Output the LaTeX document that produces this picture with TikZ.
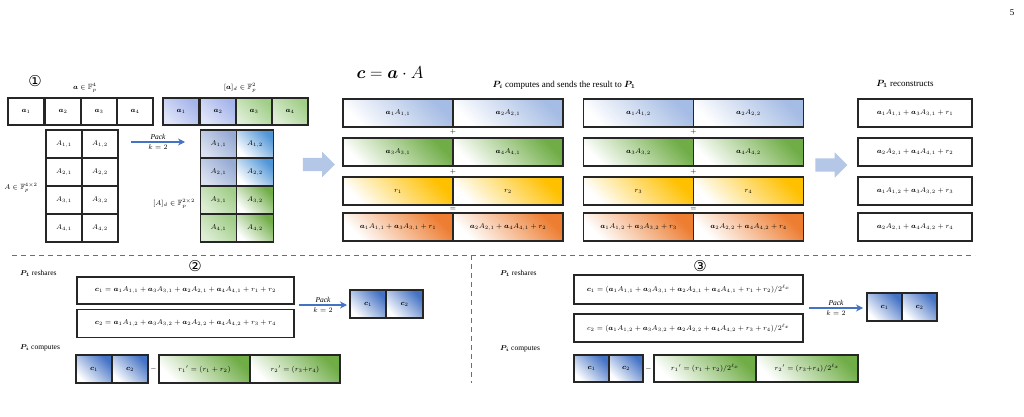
\documentclass[tikz,border=0pt]{standalone}
\usepackage{amsmath,amssymb,bm}
\usepackage{fontspec}
\setmainfont{Liberation Serif}
\newfontfamily\circfont{DejaVu Sans}
\usetikzlibrary{arrows.meta,shapes.arrows}

\definecolor{rowblue}{RGB}{165,188,228}
\definecolor{rowgreen}{RGB}{112,173,71}
\definecolor{rowyellow}{RGB}{255,192,0}
\definecolor{roworange}{RGB}{237,125,49}
\definecolor{lavblue}{RGB}{165,180,235}
\definecolor{lgreen}{RGB}{160,205,135}
\definecolor{grayblue}{RGB}{150,170,212}
\definecolor{skyblue}{RGB}{80,150,215}
\definecolor{deepblue}{RGB}{68,114,196}
\definecolor{flowblue}{RGB}{180,199,231}

\newcommand{\cellfont}{\fontsize{7}{8}\selectfont}
\newcommand{\lblfont}{\fontsize{7.5}{8}\selectfont}

\tikzset{
  cell/.style={draw=black!85, line width=1.3pt, inner sep=0pt, font=\cellfont},
  shadeit/.style={top color=#1, bottom color=white, shading angle=-45},
  softshade/.style={top color=#1, bottom color=#1!35, shading angle=-45},
  lbl/.style={inner sep=1pt, font=\lblfont},
  packarrow/.style={draw=deepblue, line width=1.3pt, -{Stealth[length=7pt,width=7pt]}},
  flowarrow/.style={single arrow, fill=flowblue, minimum height=32pt, minimum width=25pt,
    text height=13pt, text depth=0pt, text width=0pt,
    single arrow head extend=6pt, single arrow head indent=0pt, inner sep=0pt},
  sepline/.style={draw=deepblue, line width=1pt, dash pattern=on 5pt off 4pt},
  opsign/.style={inner sep=0pt, font=\fontsize{7}{8}\selectfont}
}

\begin{document}
\begin{tikzpicture}[x=1pt,y=-1pt]
    \useasboundingbox (0,0) rectangle (1024,417);

    \node[lbl, font=\fontsize{9}{10}\selectfont] (pagenum) at (1012,13) {5};

    % --- Step 1: plain and packed inputs ---
    \node[inner sep=0pt, font=\circfont\fontsize{15}{16}\selectfont] (stepone) at (35,81) {①};
    \node[lbl] (alab) at (85,88) {$\bm{a}\in\mathbb{F}_p^4$};
    \foreach \i/\x in {1/26,2/63,3/99,4/135} {
        \node[cell, minimum width=36.25, minimum height=27] (a\i) at (\x,111.5) {$\bm{a}_\i$};
    }
    \node[lbl] (Alab) at (21,188) {$A\in\mathbb{F}_p^{4\times 2}$};
    \foreach \r/\y in {1/144,2/172,3/200,4/228} {
        \foreach \c/\x in {1/64,2/100} {
            \node[cell, minimum width=36, minimum height=28] (A\r\c) at (\x,\y) {$A_{\r,\c}$};
        }
    }

    % pack step
    \coordinate (packas) at (131,142);
    \coordinate (packae) at (185,142);
    \draw[packarrow] (packas) -- node[above=1pt, lbl] {$\mathit{Pack}$} node[below=1pt, lbl] {$k=2$} (packae);

    % packed vector
    \node[lbl] (pdalab) at (240,88) {$[\bm{a}]_d\in\mathbb{F}_p^2$};
    \foreach \i/\x/\col in {1/181/lavblue,2/218/lavblue,3/254/lgreen,4/290/lgreen} {
        \node[cell, minimum width=36.25, minimum height=27, softshade=\col] (pa\i) at (\x,111.5) {$\bm{a}_\i$};
    }

    % packed matrix
    \node[lbl] (pdAlab) at (174,204) {$[A]_d\in\mathbb{F}_p^{2\times 2}$};
    \foreach \r/\y/\cola/\colb in {1/144/grayblue/skyblue,2/172/grayblue/skyblue,3/200/lgreen/rowgreen,4/228/lgreen/rowgreen} {
        \node[cell, minimum width=36.5, minimum height=28, softshade=\cola] (pA\r1) at (218.5,\y) {$A_{\r,1}$};
        \node[cell, minimum width=36.5, minimum height=28, shadeit=\colb] (pA\r2) at (255,\y) {$A_{\r,2}$};
    }

    \node[flowarrow] (flowa) at (315.5,164.5) {};

    % --- Local products ---
    \node[inner sep=0pt, font=\fontsize{18}{20}\selectfont] (title) at (390,73) {$\bm{c}=\bm{a}\cdot A$};
    \node[lbl, font=\fontsize{9}{10}\selectfont] (complab) at (564,85) {$\bm{P_i}$ computes and sends the result to $\bm{P_1}$};

    \foreach \k/\xo in {1/0,2/240.5} {
        % products with the first half
        \node[cell, minimum width=110, minimum height=28, shadeit=rowblue] (b1l\k) at (398+\xo,113) {$\bm{a}_1A_{1,\k}$};
        \node[cell, minimum width=110, minimum height=28, shadeit=rowblue] (b1r\k) at (508+\xo,113) {$\bm{a}_2A_{2,\k}$};
        \node[opsign] (plusa\k) at (453+\xo,132) {$+$};
        % products with the second half
        \node[cell, minimum width=110, minimum height=28, shadeit=rowgreen] (b2l\k) at (398+\xo,152) {$\bm{a}_3A_{3,\k}$};
        \node[cell, minimum width=110, minimum height=28, shadeit=rowgreen] (b2r\k) at (508+\xo,152) {$\bm{a}_4A_{4,\k}$};
        \node[opsign] (plusb\k) at (453+\xo,171.5) {$+$};
        \node[opsign] (eq\k) at (453+\xo,209) {$=$};
    }
    % masks
    \node[cell, minimum width=110, minimum height=28, shadeit=rowyellow] (b3l1) at (398,191) {$r_1$};
    \node[cell, minimum width=110, minimum height=28, shadeit=rowyellow] (b3r1) at (508,191) {$r_2$};
    \node[cell, minimum width=110, minimum height=28, shadeit=rowyellow] (b3l2) at (638.5,191) {$r_3$};
    \node[cell, minimum width=110, minimum height=28, shadeit=rowyellow] (b3r2) at (748.5,191) {$r_4$};
    % sums
    \node[cell, minimum width=110, minimum height=28, shadeit=roworange] (b4l1) at (398,227) {$\bm{a}_1A_{1,1}+\bm{a}_3A_{3,1}+r_1$};
    \node[cell, minimum width=110, minimum height=28, shadeit=roworange] (b4r1) at (508,227) {$\bm{a}_2A_{2,1}+\bm{a}_4A_{4,1}+r_2$};
    \node[cell, minimum width=110, minimum height=28, shadeit=roworange] (b4l2) at (638.5,227) {$\bm{a}_1A_{1,2}+\bm{a}_3A_{3,2}+r_3$};
    \node[cell, minimum width=110, minimum height=28, shadeit=roworange] (b4r2) at (748.5,227) {$\bm{a}_2A_{2,2}+\bm{a}_4A_{4,2}+r_4$};

    \node[flowarrow] (flowb) at (828,165) {};

    % --- Reconstruction ---
    \node[lbl, font=\fontsize{9}{10}\selectfont] (reclab) at (905,84) {$\bm{P_1}$ reconstructs};
    \foreach \i/\y/\t in {1/113/{\bm{a}_1A_{1,1}+\bm{a}_3A_{3,1}+r_1},
                          2/152/{\bm{a}_2A_{2,1}+\bm{a}_4A_{4,1}+r_2},
                          3/191/{\bm{a}_1A_{1,2}+\bm{a}_3A_{3,2}+r_3},
                          4/227/{\bm{a}_2A_{2,1}+\bm{a}_4A_{4,2}+r_4}} {
        \node[cell, minimum width=114, minimum height=28] (rec\i) at (915,\y) {$\t$};
    }

    % --- Separators ---
    \draw[sepline] (12,255) -- (975,255);
    \draw[sepline] (471,255) -- (471,383);

    % --- Step 2 ---
    \node[lbl, anchor=west] (reshtwo) at (19,273) {$\bm{P_1}$ reshares};
    \node[inner sep=0pt, font=\circfont\fontsize{15}{16}\selectfont] (steptwo) at (195,266) {②};
    \node[cell, minimum width=217, minimum height=27] (ctwoa) at (185.5,290.5)
        {$\bm{c}_1=\bm{a}_1A_{1,1}+\bm{a}_3A_{3,1}+\bm{a}_2A_{2,1}+\bm{a}_4A_{4,1}+r_1+r_2$};
    \node[cell, minimum width=217, minimum height=28] (ctwob) at (185.5,323.5)
        {$\bm{c}_2=\bm{a}_1A_{1,2}+\bm{a}_3A_{3,2}+\bm{a}_2A_{2,2}+\bm{a}_4A_{4,2}+r_3+r_4$};
    \coordinate (packbs) at (299,305);
    \coordinate (packbe) at (347,305);
    \draw[packarrow] (packbs) -- node[above=1pt, lbl] {$\mathit{Pack}$} node[below=1pt, lbl] {$k=2$} (packbe);
    \node[cell, minimum width=36, minimum height=28, shadeit=deepblue] (pcta) at (368,304) {$\bm{c}_1$};
    \node[cell, minimum width=37, minimum height=28, shadeit=deepblue] (pctb) at (404.5,304) {$\bm{c}_2$};

    \node[lbl, anchor=west] (comptwo) at (19,348) {$\bm{P_i}$ computes};
    \node[cell, minimum width=36, minimum height=28, shadeit=deepblue] (qcta) at (94,369) {$\bm{c}_1$};
    \node[cell, minimum width=36, minimum height=28, shadeit=deepblue] (qctb) at (130,369) {$\bm{c}_2$};
    \node[opsign] (minustwo) at (153.5,369) {$-$};
    \node[cell, minimum width=91, minimum height=28, shadeit=rowgreen] (rpta) at (204.5,369) {$r_1{}'=(r_1+r_2)$};
    \node[cell, minimum width=90, minimum height=28, shadeit=rowgreen] (rptb) at (295,369) {$r_2{}'=(r_3{+}r_4)$};

    % --- Step 3 ---
    \node[lbl, anchor=west] (reshthree) at (499,273) {$\bm{P_1}$ reshares};
    \node[inner sep=0pt, font=\circfont\fontsize{15}{16}\selectfont] (stepthree) at (700,266) {③};
    \node[cell, minimum width=229, minimum height=29] (cthra) at (688.5,289.5)
        {$\bm{c}_1=(\bm{a}_1A_{1,1}+\bm{a}_3A_{3,1}+\bm{a}_2A_{2,1}+\bm{a}_4A_{4,1}+r_1+r_2)/2^{\ell_x}$};
    \node[cell, minimum width=229, minimum height=28] (cthrb) at (688.5,328)
        {$c_2=(\bm{a}_1A_{1,2}+\bm{a}_3A_{3,2}+\bm{a}_2A_{2,2}+\bm{a}_4A_{4,2}+r_3+r_4)/2^{\ell_x}$};
    \coordinate (packcs) at (809,308);
    \coordinate (packce) at (863,308);
    \draw[packarrow] (packcs) -- node[above=1pt, lbl] {$\mathit{Pack}$} node[below=1pt, lbl] {$k=2$} (packce);
    \node[cell, minimum width=35, minimum height=28, shadeit=deepblue] (pcha) at (884.5,307) {$\bm{c}_1$};
    \node[cell, minimum width=35, minimum height=28, shadeit=deepblue] (pchb) at (919.5,307) {$\bm{c}_2$};

    \node[lbl, anchor=west] (compthree) at (499,349) {$\bm{P_i}$ computes};
    \node[cell, minimum width=35, minimum height=27, shadeit=deepblue] (qcha) at (591.5,368.5) {$\bm{c}_1$};
    \node[cell, minimum width=34, minimum height=27, shadeit=deepblue] (qchb) at (626,368.5) {$\bm{c}_2$};
    \node[opsign] (minusthree) at (648.5,369) {$-$};
    \node[cell, minimum width=102, minimum height=27, shadeit=rowgreen] (rpha) at (705,368.5) {$r_1{}'=(r_1+r_2)/2^{\ell_x}$};
    \node[cell, minimum width=102, minimum height=27, shadeit=rowgreen] (rphb) at (807,368.5) {$r_2{}'=(r_3{+}r_4)/2^{\ell_x}$};

\end{tikzpicture}
\end{document}
